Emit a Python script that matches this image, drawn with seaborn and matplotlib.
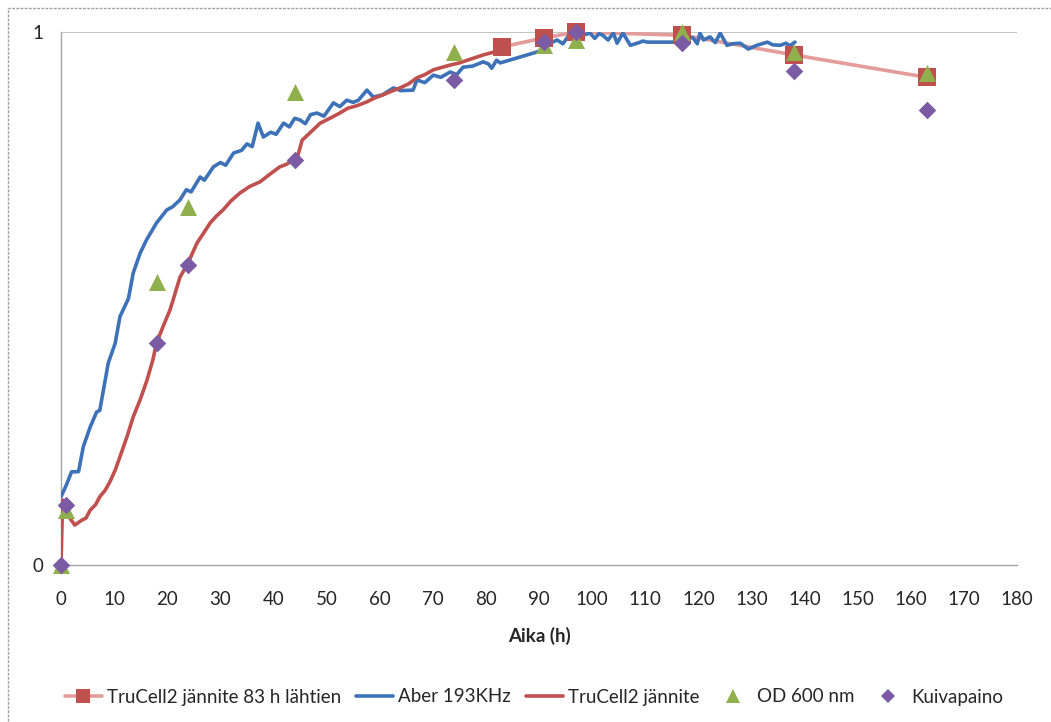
import numpy as np
import pandas as pd
import matplotlib
matplotlib.use("Agg")
import matplotlib.pyplot as plt
import seaborn as sns
from matplotlib.lines import Line2D
from matplotlib.patches import Rectangle

sns.set_theme(style="white")
plt.rcParams['font.family'] = ['Lato', 'DejaVu Sans']

# ---- data ----
aber_x = [0, 1.0, 2.0, 3.3, 4.2, 5.5, 6.7, 7.3, 8.9, 10.2, 11.1, 12.7, 13.6, 14.9, 16.1, 18.0, 19.9, 21.0,
          22.4, 23.6, 24.5, 26.2, 27.0, 28.7, 30.0, 31.0, 32.5, 34.0, 35.0, 36.0, 37.1, 38.1, 39.5, 40.5,
          41.9, 43.0, 44.0, 45.0, 46.0, 47.0, 48.2, 49.5, 51.3, 52.5, 53.8, 55.0, 56.0, 57.6, 58.8, 60.5,
          62.6, 64.0, 66.3, 67.0, 68.5, 70.1, 71.5, 73.3, 74.5, 75.7, 77.5, 79.5, 80.5, 81.1, 82.0, 82.7,
          90.8, 92.1, 93.4, 94.5, 95.5, 96.5, 98.3, 99.6, 100.5, 101.3, 102.0, 103.0, 104.0, 104.7, 105.8,
          107.2, 108.5, 109.6, 110.4, 116.6, 117.5, 118.3, 119.0, 119.8, 120.3, 121.0, 122.2, 123.2, 124.1,
          125.4, 126.5, 127.9, 129.4, 131.0, 133.0, 134.0, 135.4, 136.5, 137.2, 138.2]
aber_y = [0.128, 0.15, 0.175, 0.175, 0.222, 0.259, 0.287, 0.29, 0.379, 0.416, 0.466, 0.5, 0.548, 0.585, 0.61,
          0.642, 0.666, 0.672, 0.685, 0.704, 0.700, 0.728, 0.722, 0.747, 0.755, 0.750, 0.773, 0.778, 0.79,
          0.785, 0.829, 0.803, 0.812, 0.808, 0.829, 0.822, 0.838, 0.835, 0.828, 0.845, 0.848, 0.842, 0.867,
          0.860, 0.872, 0.868, 0.872, 0.891, 0.878, 0.882, 0.895, 0.890, 0.891, 0.910, 0.905, 0.919, 0.915,
          0.925, 0.920, 0.934, 0.936, 0.944, 0.940, 0.932, 0.947, 0.942, 0.966, 0.979, 0.985, 0.978, 0.992,
          0.985, 0.994, 0.998, 0.988, 0.997, 0.994, 0.985, 0.998, 0.979, 0.998, 0.975, 0.979, 0.983, 0.981,
          0.981, 0.977, 0.990, 0.989, 0.978, 0.998, 0.985, 0.991, 0.980, 0.998, 0.975, 0.978, 0.979, 0.968,
          0.975, 0.981, 0.976, 0.975, 0.979, 0.974, 0.981]

trucell_x = [0, 0.3, 0.8, 1.5, 2.6, 3.9, 4.7, 5.5, 6.5, 7.3, 8.3, 9.2, 10.2, 11.1, 12.4, 13.6, 14.9, 16.2,
             17.3, 18.0, 19.2, 20.5, 21.1, 22.4, 23.9, 25.6, 26.8, 28.1, 29.3, 30.5, 32.0, 33.7, 35.5, 37.5,
             39.3, 41.2, 42.5, 43.7, 44.5, 45.4, 47.0, 48.8, 50.0, 51.2, 52.5, 54.0, 55.8, 57.6, 59.0, 60.6,
             62.0, 63.8, 65.5, 67.0, 68.5, 70.1, 71.5, 73.3, 75.0, 76.5, 78.0, 79.5, 81.4, 82.5]
trucell_y = [0, 0.122, 0.105, 0.09, 0.075, 0.084, 0.088, 0.103, 0.113, 0.128, 0.14, 0.156, 0.178, 0.203,
             0.24, 0.278, 0.31, 0.347, 0.385, 0.417, 0.447, 0.478, 0.497, 0.54, 0.566, 0.604, 0.622, 0.642,
             0.655, 0.666, 0.683, 0.698, 0.710, 0.719, 0.733, 0.747, 0.752, 0.76, 0.765, 0.797, 0.812, 0.829,
             0.835, 0.841, 0.848, 0.857, 0.862, 0.869, 0.876, 0.882, 0.888, 0.895, 0.903, 0.914, 0.920, 0.929,
             0.933, 0.938, 0.942, 0.947, 0.952, 0.957, 0.962, 0.968]

late_x = [83, 91, 97, 117, 138, 163]
late_y = [0.972, 0.989, 1.0, 0.994, 0.957, 0.915]

od_x = [0, 1, 18, 24, 44, 74, 91, 97, 117, 138, 163]
od_y = [0.0, 0.103, 0.531, 0.672, 0.887, 0.962, 0.976, 0.985, 1.0, 0.962, 0.923]

kuiva_x = [0, 1, 18, 24, 44, 74, 91, 97, 117, 138, 163]
kuiva_y = [0.0, 0.113, 0.417, 0.563, 0.76, 0.91, 0.981, 1.0, 0.979, 0.927, 0.854]

x_ticks = list(range(0, 181, 10))
y_ticks = [0, 1]

labels = ["TruCell2 jännite 83 h lähtien", "Aber 193KHz", "TruCell2 jännite", "OD 600 nm", "Kuivapaino"]

BLUE = "#3D72B8"
RED = "#C0504D"
PINK = "#E39C9A"
GREEN = "#8FB04D"
PURPLE = "#7B5BA3"
TXT = "#262626"

# ---- figure ----
fig = plt.figure(figsize=(10.51, 7.22), dpi=100)
ax = fig.add_axes([61 / 1051, 1 - 565 / 722, (1017 - 61) / 1051, (565 - 32) / 722])

df_late = pd.DataFrame({"x": late_x, "y": late_y})
df_aber = pd.DataFrame({"x": aber_x, "y": aber_y})
df_tru = pd.DataFrame({"x": trucell_x, "y": trucell_y})
df_od = pd.DataFrame({"x": od_x, "y": od_y})
df_kv = pd.DataFrame({"x": kuiva_x, "y": kuiva_y})

sns.lineplot(data=df_late, x="x", y="y", ax=ax, color=PINK, lw=2.6, sort=False, estimator=None, zorder=2)
sns.lineplot(data=df_aber, x="x", y="y", ax=ax, color=BLUE, lw=2.6, sort=False, estimator=None, zorder=3)
sns.lineplot(data=df_tru, x="x", y="y", ax=ax, color=RED, lw=2.6, sort=False, estimator=None, zorder=4)
sns.scatterplot(data=df_late, x="x", y="y", ax=ax, color=RED, marker="s", s=150, linewidth=0, zorder=5, clip_on=False)
sns.scatterplot(data=df_od, x="x", y="y", ax=ax, color=GREEN, marker="^", s=150, linewidth=0, zorder=6, clip_on=False)
sns.scatterplot(data=df_kv, x="x", y="y", ax=ax, color=PURPLE, marker="D", s=80, linewidth=0, zorder=7, clip_on=False)

ax.set_xlim(0, 180)
ax.set_ylim(0, 1)
ax.set_xticks(x_ticks)
ax.set_yticks(y_ticks)
ax.set_yticklabels([str(v) for v in y_ticks])
ax.tick_params(axis="both", length=0, labelsize=13.5, colors=TXT)
ax.tick_params(axis="x", pad=19)
ax.tick_params(axis="y", pad=13)
ax.axhline(1, color="#BFBFBF", lw=1.3, zorder=1)
for side in ["top", "right"]:
    ax.spines[side].set_visible(False)
for side in ["left", "bottom"]:
    ax.spines[side].set_color("#A6A6A6")
    ax.spines[side].set_linewidth(1.0)
ax.set_xlabel("Aika (h)", fontsize=13.5, fontweight="bold", labelpad=13, color=TXT)
ax.set_ylabel("")

handles = [
    Line2D([], [], color=PINK, lw=2.6, marker="s", markersize=10, markerfacecolor=RED, markeredgewidth=0),
    Line2D([], [], color=BLUE, lw=2.6),
    Line2D([], [], color=RED, lw=2.6),
    Line2D([], [], color=GREEN, lw=0, marker="^", markersize=10, markeredgewidth=0),
    Line2D([], [], color=PURPLE, lw=0, marker="D", markersize=7, markeredgewidth=0),
]
leg = fig.legend(handles, labels, loc="center", bbox_to_anchor=(534 / 1051, 1 - 697 / 722), ncol=5,
                 frameon=False, fontsize=13.5, handlelength=2.0, handletextpad=0.25, columnspacing=0.8)
for t in leg.get_texts():
    t.set_color(TXT)

# outer chart border
fig.patches.append(Rectangle((8 / 1051, -0.05), 1.1, (722 - 8) / 722 + 0.05, transform=fig.transFigure,
                             fill=False, edgecolor="#A0A0A0", lw=1.0, ls=(0, (2, 1)), zorder=0))

fig.savefig("out.png", dpi=100)
